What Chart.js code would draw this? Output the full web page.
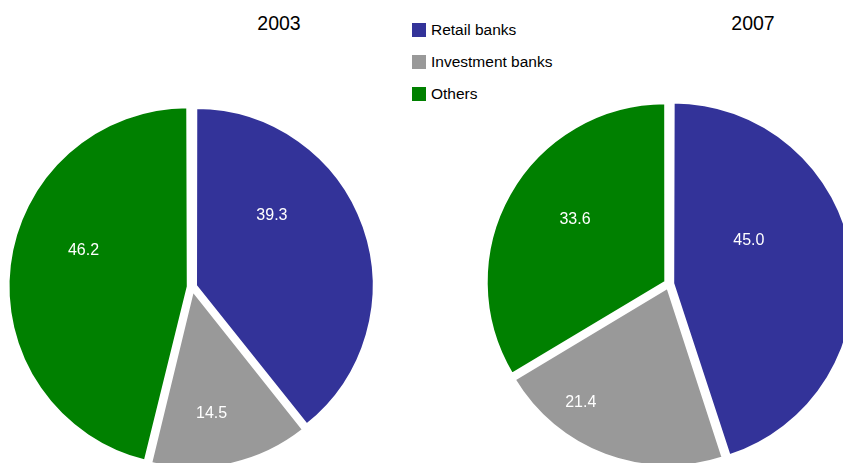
<!DOCTYPE html>
<html>
<head>
<meta charset="utf-8">
<script src="https://cdn.jsdelivr.net/npm/chart.js@4.4.1/dist/chart.umd.min.js"></script>
<style>
    html, body { margin: 0; padding: 0; background: #fff; }
    #wrap { position: relative; width: 843px; height: 463px; overflow: hidden; font-family: "Liberation Sans", Arial, sans-serif; }
    .pie { position: absolute; width: 400px; height: 400px; }
    #pie2003 { left: -8px; top: 87px; }
    #pie2007 { left: 469px; top: 84px; }
    .year { position: absolute; top: 12px; font-size: 19.5px; color: #000; transform: translateX(-50%); }
    #legend { position: absolute; left: 412px; top: 23px; font-size: 15.5px; color: #000; }
    .item { height: 32px; display: flex; align-items: flex-start; }
    .box { width: 14px; height: 14px; margin-right: 5px; }
    .item span { line-height: 14px; }
</style>
</head>
<body>
<div id="wrap">
    <div class="year" style="left:279px">2003</div>
    <div class="year" style="left:753px">2007</div>
    <div id="legend"></div>
    <canvas id="pie2003" class="pie" width="400" height="400"></canvas>
    <canvas id="pie2007" class="pie" width="400" height="400"></canvas>
</div>
<script>
(function () {
    "use strict";

    // data
    let categories = ["Retail banks", "Investment banks", "Others"];
    let values2003 = [39.3, 14.5, 46.2];
    let values2007 = [45.0, 21.4, 33.6];
    let colors = ["#333399", "#999999", "#008000"];

    // legend
    let legend = document.getElementById("legend");
    categories.forEach(function (name, i) {
        let row = document.createElement("div");
        row.className = "item";
        row.innerHTML = '<div class="box" style="background:' + colors[i] + '"></div><span>' + name + "</span>";
        legend.appendChild(row);
    });

    // white value labels inside each slice
    // place: [fraction along the slice's angle, fraction of the radius]
    let sliceLabels = {
        id: "sliceLabels",
        afterDatasetsDraw: function (chart, args, opts) {
            let ctx = chart.ctx;
            let meta = chart.getDatasetMeta(0);
            ctx.save();
            ctx.fillStyle = "#ffffff";
            ctx.font = '16px "Liberation Sans", Arial, sans-serif';
            ctx.textAlign = "center";
            ctx.textBaseline = "middle";
            meta.data.forEach(function (arc, i) {
                let p = arc.getProps(["x", "y", "startAngle", "endAngle", "outerRadius"], true);
                let place = (opts.place && opts.place[i]) || [0.5, 0.64];
                let a = p.startAngle + (p.endAngle - p.startAngle) * place[0];
                let r = p.outerRadius * place[1];
                let v = chart.data.datasets[0].data[i];
                ctx.fillText(v.toFixed(1), p.x + Math.cos(a) * r, p.y + Math.sin(a) * r);
            });
            ctx.restore();
        }
    };

    function makePie(id, values, radius, place) {
        let ctx = document.getElementById(id).getContext("2d");
        return new Chart(ctx, {
            type: "pie",
            data: {
                labels: categories,
                datasets: [
                    {
                        data: values,
                        backgroundColor: colors,
                        borderColor: "#ffffff",
                        borderWidth: 2,
                        offset: 17,
                    },
                ],
            },
            options: {
                responsive: false,
                animation: false,
                radius: radius,
                layout: { padding: 0 },
                plugins: {
                    legend: { display: false },
                    tooltip: { enabled: false },
                    sliceLabels: { place: place },
                },
            },
            plugins: [sliceLabels],
        });
    }

    makePie("pie2003", values2003, 176, [[0.34, 0.61], [0.57, 0.73], [0.57, 0.65]]);
    makePie("pie2007", values2007, 178, [[0.38, 0.51], [0.71, 0.83], [0.54, 0.64]]);
})();
</script>
</body>
</html>
